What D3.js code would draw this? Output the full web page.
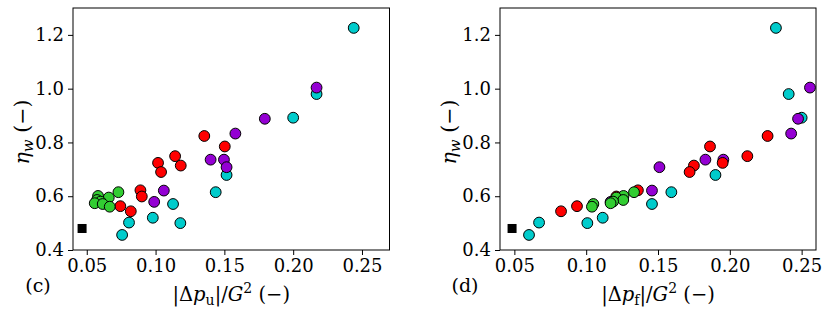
<!DOCTYPE html>
<html>
<head>
<meta charset="utf-8">
<script src="https://cdn.jsdelivr.net/npm/d3@7"></script>
<style>
  body { margin: 0; background: #fff; }
  svg text { font-family: "DejaVu Serif", serif; fill: #000; }
</style>
</head>
<body>
<svg id="svg" width="831" height="314"></svg>
<script>
// eta_w values per group (same points in both panels)
const cyanEta   = [1.226, 0.980, 0.892, 0.679, 0.615, 0.571, 0.520, 0.502, 0.500, 0.456];
const cyanPu    = [0.244, 0.217, 0.200, 0.1516, 0.1437, 0.1127, 0.098, 0.0807, 0.118, 0.0757];
const cyanPf    = [0.2321, 0.241, 0.250, 0.190, 0.1593, 0.1458, 0.1115, 0.0672, 0.1008, 0.0602];

const purpleEta = [1.004, 0.888, 0.833, 0.736, 0.736, 0.708, 0.621, 0.579];
const purplePu  = [0.217, 0.1794, 0.158, 0.140, 0.1497, 0.1516, 0.106, 0.099];
const purplePf  = [0.2558, 0.2475, 0.2427, 0.183, 0.1955, 0.151, 0.1458, 0.117];

const redEta    = [0.824, 0.785, 0.749, 0.714, 0.724, 0.690, 0.622, 0.599, 0.563, 0.544];
const redPu     = [0.1354, 0.1503, 0.1142, 0.1183, 0.1018, 0.104, 0.089, 0.090, 0.0744, 0.082];
const redPf     = [0.2263, 0.1862, 0.2122, 0.175, 0.195, 0.172, 0.136, 0.121, 0.0936, 0.0825];

const greenEta  = [0.615, 0.601, 0.595, 0.586, 0.580, 0.574, 0.571, 0.561];
const greenPu   = [0.073, 0.0582, 0.066, 0.0575, 0.060, 0.0558, 0.0616, 0.0667];
const greenPf   = [0.1333, 0.126, 0.121, 0.1258, 0.1187, 0.117, 0.105, 0.104];

const refEta = [0.480];
const refPu  = [0.0466];
const refPf  = [0.0484];

const xTicks = [0.05, 0.10, 0.15, 0.20, 0.25];
const yTicks = [0.4, 0.6, 0.8, 1.0, 1.2];

const groups = [
  { color: "#00cccc", eta: cyanEta,   pu: cyanPu,   pf: cyanPf },
  { color: "#9400d3", eta: purpleEta, pu: purplePu, pf: purplePf },
  { color: "#ff0000", eta: redEta,    pu: redPu,    pf: redPf },
  { color: "#32cd32", eta: greenEta,  pu: greenPu,  pf: greenPf },
];

const svg = d3.select("#svg");

function panel(opts) {
  const { left, right, top, bottom, xDomain, key, sub, tag } = opts;
  const x = d3.scaleLinear().domain(xDomain).range([left, right]);
  const y = d3.scaleLinear().domain([0.4, 1.3]).range([bottom, top]);
  const g = svg.append("g");

  // axes
  const xa = g.append("g")
    .attr("transform", `translate(0,${bottom})`)
    .call(d3.axisBottom(x).tickValues(xTicks).tickFormat(d3.format(".2f")).tickSize(5).tickPadding(4).tickSizeOuter(0));
  const ya = g.append("g")
    .attr("transform", `translate(${left},0)`)
    .call(d3.axisLeft(y).tickValues(yTicks).tickFormat(d3.format(".1f")).tickSize(5).tickPadding(4).tickSizeOuter(0));
  [xa, ya].forEach(a => {
    a.select(".domain").remove();
    a.selectAll("line").attr("stroke", "#000").attr("stroke-width", 1);
    a.selectAll("text").style("font-size", "18px").style("font-family", "DejaVu Serif");
  });

  // points
  groups.forEach(grp => {
    const pts = grp.eta.map((e, i) => ({ x: grp[key][i], y: e }));
    g.append("g").selectAll("circle")
      .data(pts)
      .join("circle")
      .attr("cx", d => x(d.x))
      .attr("cy", d => y(d.y))
      .attr("r", 5.4)
      .attr("fill", grp.color)
      .attr("stroke", "#000")
      .attr("stroke-width", 1);
  });

  // reference square
  const refX = key === "pu" ? refPu : refPf;
  g.append("g").selectAll("rect")
    .data(refEta.map((e, i) => ({ x: refX[i], y: e })))
    .join("rect")
    .attr("x", d => x(d.x) - 4.5)
    .attr("y", d => y(d.y) - 4.5)
    .attr("width", 9)
    .attr("height", 9)
    .attr("fill", "#000");

  // frame
  g.append("rect")
    .attr("x", left).attr("y", top)
    .attr("width", right - left).attr("height", bottom - top)
    .attr("fill", "none").attr("stroke", "#000").attr("stroke-width", 1);

  // x label
  const xl = g.append("text")
    .attr("x", (left + right) / 2)
    .attr("y", bottom + 51)
    .attr("text-anchor", "middle")
    .style("font-size", "19.5px");
  xl.append("tspan").text("|Δ");
  xl.append("tspan").style("font-style", "italic").text("p");
  xl.append("tspan").attr("dy", 4).style("font-size", "14px").text(sub);
  xl.append("tspan").attr("dy", -4).text("|/");
  xl.append("tspan").style("font-style", "italic").text("G");
  xl.append("tspan").attr("dy", -8).style("font-size", "14px").text("2");
  xl.append("tspan").attr("dy", 8).text(" (−)");

  // y label
  const yl = g.append("text")
    .attr("transform", `translate(${left - 44},${(top + bottom) / 2 + 3}) rotate(-90)`)
    .attr("text-anchor", "middle")
    .style("font-size", "20.5px");
  yl.append("tspan").style("font-style", "italic").text("η");
  yl.append("tspan").attr("dy", 4).style("font-style", "italic").style("font-size", "15px").text("w");
  yl.append("tspan").attr("dy", -4).text(" (−)");

  // panel tag
  g.append("text")
    .attr("x", left - 35)
    .attr("y", bottom + 42)
    .attr("text-anchor", "middle")
    .style("font-size", "19px")
    .text(tag);
}

panel({ left: 73, right: 389.5, top: 8, bottom: 250, xDomain: [0.04, 0.27], key: "pu", sub: "u", tag: "(c)" });
panel({ left: 500, right: 816, top: 8, bottom: 250, xDomain: [0.04, 0.26], key: "pf", sub: "f", tag: "(d)" });
</script>
</body>
</html>
